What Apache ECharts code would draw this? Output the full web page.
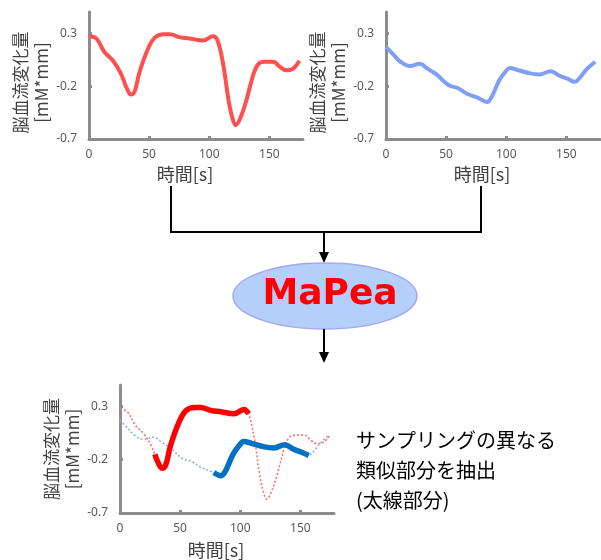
<!DOCTYPE html>
<html>
<head>
<meta charset="utf-8">
<script src="https://cdn.jsdelivr.net/npm/echarts@6/dist/echarts.min.js"></script>
<style>
  html, body { margin: 0; padding: 0; background: #fff; }
  #main { width: 601px; height: 560px; }
</style>
</head>
<body>
<div id="main"></div>
<script>
// chart 1 (red) : time [s] / value
const t1 = [0, 6, 13, 20, 26, 29, 31, 35, 38, 42, 49, 55, 62, 67, 76, 84, 95, 103, 107, 112, 116, 119, 122, 126, 131, 137, 141, 146, 153, 159, 164, 169, 175];
const v1 = [0.27, 0.25, 0.12, 0.04, -0.07, -0.15, -0.21, -0.28, -0.25, -0.07, 0.15, 0.26, 0.29, 0.29, 0.26, 0.25, 0.23, 0.27, 0.23, -0.02, -0.33, -0.49, -0.57, -0.5, -0.33, -0.08, 0.01, 0.03, 0.03, -0.02, -0.05, -0.04, 0.04];
// chart 2 (blue)
const t2 = [0, 6, 12, 20, 28, 35, 42, 52, 60, 67, 76, 78, 84, 88, 94, 99, 103, 110, 120, 128, 137, 144, 151, 157, 162, 167, 174];
const v2 = [0.17, 0.1, 0.03, -0.01, 0.01, -0.04, -0.09, -0.19, -0.22, -0.27, -0.31, -0.32, -0.35, -0.3, -0.15, -0.07, -0.03, -0.05, -0.08, -0.09, -0.06, -0.1, -0.13, -0.16, -0.11, -0.04, 0.03];
// matched (thick) ranges in chart 3
const redRange = [29, 107];
const blueRange = [78, 157];

const yTicks = [-0.7, -0.2, 0.3];
const xTicks = [0, 50, 100, 150];
const yName = "脳血流変化量\n[mM*mm]";
const xName = "時間[s]";
const caption = "サンプリングの異なる\n類似部分を抽出\n(太線部分)";

const axisGray = "#8c8c8c";
const textGray = "#595959";

function pairs(t, v) {
  const out = [];
  for (let i = 0; i < t.length; i++) out.push([t[i], v[i]]);
  return out;
}
function part(t, v, r) {
  return pairs(t, v).filter(p => p[0] >= r[0] && p[0] <= r[1]);
}

function xAx(grid, gap) {
  return {
    type: "value", gridIndex: grid, min: 0, max: 178,
    name: xName, nameLocation: "middle", nameGap: gap,
    nameTextStyle: { fontSize: 18, color: "#404040", fontFamily: "Noto Sans CJK JP", padding: [0, 22, 0, 0] },
    axisLine: { onZero: false, lineStyle: { color: axisGray, width: 3 } },
    axisTick: { inside: true, length: 3, customValues: xTicks, lineStyle: { color: axisGray, width: 3 } },
    axisLabel: { customValues: xTicks, margin: 10, fontSize: 12, color: textGray, fontFamily: "Noto Sans" },
    splitLine: { show: false }
  };
}
function yAx(grid, gap, pad) {
  return {
    type: "value", gridIndex: grid, min: -0.7, max: 0.5,
    name: yName, nameLocation: "middle", nameGap: gap, nameRotate: 90,
    nameTextStyle: { fontSize: 17, color: "#404040", lineHeight: 21, fontFamily: "Noto Sans CJK JP", padding: pad },
    axisLine: { onZero: false, lineStyle: { color: axisGray, width: 3 } },
    axisTick: { inside: true, length: 3, customValues: yTicks, lineStyle: { color: axisGray, width: 3 } },
    axisLabel: { customValues: yTicks, margin: 12, fontSize: 12, color: textGray, fontFamily: "Noto Sans" },
    splitLine: { show: false }
  };
}

const chart = echarts.init(document.getElementById("main"));

const option = {
  animation: false,
  grid: [
    { left: 89, right: 298, top: 12, bottom: 421 },
    { left: 386, right: 1, top: 12, bottom: 421 },
    { left: 120, right: 267, top: 385, bottom: 46 }
  ],
  xAxis: [xAx(0, 26), xAx(1, 26), xAx(2, 28)],
  yAxis: [yAx(0, 35, [0, 14, 0, 0]), yAx(1, 35, [0, 14, 0, 0]), yAx(2, 34, [0, 0, 0, 0])],
  series: [
    {
      type: "line", xAxisIndex: 0, yAxisIndex: 0, data: pairs(t1, v1),
      smooth: 0.4, showSymbol: false, lineStyle: { color: "#ff5050", width: 4 }
    },
    {
      type: "line", xAxisIndex: 1, yAxisIndex: 1, data: pairs(t2, v2),
      smooth: 0.4, showSymbol: false, lineStyle: { color: "#7f9ef8", width: 4 }
    },
    {
      type: "line", xAxisIndex: 2, yAxisIndex: 2, data: pairs(t1, v1),
      smooth: 0.4, showSymbol: false, lineStyle: { color: "#ff7070", width: 1.6, type: [2, 2] }
    },
    {
      type: "line", xAxisIndex: 2, yAxisIndex: 2, data: pairs(t2, v2),
      smooth: 0.4, showSymbol: false, lineStyle: { color: "#94aaf6", width: 1.6, type: [2, 2] }
    },
    {
      type: "line", xAxisIndex: 2, yAxisIndex: 2, data: part(t1, v1, redRange),
      smooth: 0.4, showSymbol: false, lineStyle: { color: "#ff0000", width: 5.5 }
    },
    {
      type: "line", xAxisIndex: 2, yAxisIndex: 2, data: part(t2, v2, blueRange),
      smooth: 0.4, showSymbol: false, lineStyle: { color: "#0070c0", width: 5.5 }
    }
  ],
  graphic: [
    // connector from both charts
    {
      type: "polyline",
      shape: { points: [[171, 186], [171, 232], [481, 232], [481, 186]] },
      style: { stroke: "#000", lineWidth: 2, fill: null }
    },
    { type: "line", shape: { x1: 324, y1: 232, x2: 324, y2: 254 }, style: { stroke: "#000", lineWidth: 2 } },
    { type: "polygon", shape: { points: [[319, 252], [329, 252], [324, 263]] }, style: { fill: "#000" } },
    {
      type: "ellipse",
      shape: { cx: 325, cy: 296, rx: 92, ry: 33 },
      style: { fill: "#b4cffb", stroke: "#a3a8f0", lineWidth: 1.5 }
    },
    {
      type: "text", x: 330, y: 295,
      style: {
        text: "MaPea", fill: "#ff0000", font: "bold 36px 'DejaVu Sans'",
        textAlign: "center", textVerticalAlign: "middle"
      }
    },
    { type: "line", shape: { x1: 324, y1: 329, x2: 324, y2: 354 }, style: { stroke: "#000", lineWidth: 2 } },
    { type: "polygon", shape: { points: [[319, 352], [329, 352], [324, 363]] }, style: { fill: "#000" } },
    {
      type: "text", x: 356, y: 425,
      style: {
        text: caption, fill: "#000", font: "20px 'Noto Sans CJK JP'",
        lineHeight: 30, textAlign: "left", textVerticalAlign: "top"
      }
    }
  ]
};

chart.setOption(option);
</script>
</body>
</html>
